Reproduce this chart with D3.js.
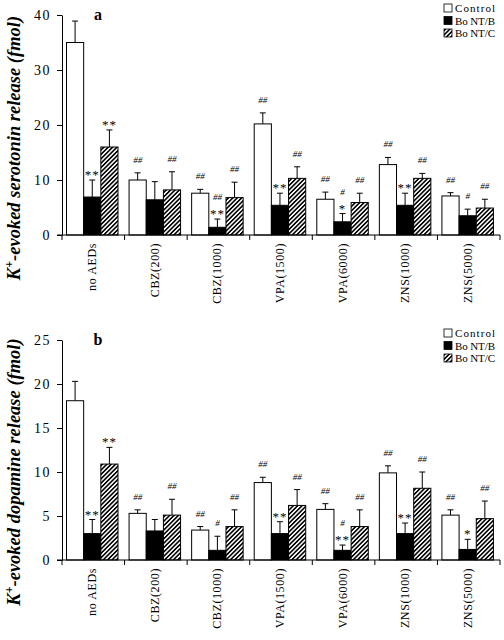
<!DOCTYPE html>
<html><head><meta charset="utf-8">
<script src="https://cdn.jsdelivr.net/npm/d3@7"></script>
<style>body{margin:0;background:#fff}svg{display:block}</style>
</head><body>
<script>
// ---------- data ----------
const categories = ["no AEDs","CBZ(200)","CBZ(1000)","VPA(1500)","VPA(6000)","ZNS(1000)","ZNS(5000)"];
const seriesNames = ["Control","Bo NT/B","Bo NT/C"];

// Panel a: serotonin (mean, mean+SEM)
const serControl    = [35.0, 10.0, 7.6, 20.2, 6.5, 12.8, 7.1];
const serControlErr = [38.9, 11.3, 8.3, 22.2, 7.8, 14.1, 7.7];
const serBoNTB      = [6.9, 6.4, 1.4, 5.4, 2.4, 5.4, 3.5];
const serBoNTBErr   = [10.0, 9.7, 2.9, 7.6, 3.9, 7.6, 4.7];
const serBoNTC      = [16.0, 8.2, 6.8, 10.3, 5.9, 10.3, 4.9];
const serBoNTCErr   = [19.1, 11.5, 9.6, 12.4, 7.6, 11.2, 6.5];
const serControlSig = ["", "##", "##", "##", "##", "##", "##"];
const serBoNTBSig   = [["**"], [], ["**","##"], ["**"], ["*","#"], ["**"], ["#"]];
const serBoNTCSig   = ["**", "##", "##", "##", "##", "##", "##"];

// Panel b: dopamine (mean, mean+SEM)
const dopControl    = [18.1, 5.3, 3.4, 8.8, 5.75, 9.9, 5.1];
const dopControlErr = [20.3, 5.7, 3.8, 9.4, 6.4, 10.7, 5.7];
const dopBoNTB      = [3.0, 3.3, 1.1, 3.0, 1.1, 3.0, 1.2];
const dopBoNTBErr   = [4.6, 4.6, 2.7, 4.35, 1.7, 4.2, 2.35];
const dopBoNTC      = [10.9, 5.1, 3.8, 6.2, 3.8, 8.15, 4.7];
const dopBoNTCErr   = [12.8, 6.9, 5.7, 8.0, 5.7, 10.0, 6.7];
const dopControlSig = ["", "##", "##", "##", "##", "##", "##"];
const dopBoNTBSig   = [["**"], [], ["#"], ["**"], ["**","#"], ["**"], ["*"]];
const dopBoNTCSig   = ["**", "##", "##", "##", "##", "##", "##"];

const serTicks = [0, 10, 20, 30, 40];
const dopTicks = [0, 5, 10, 15, 20, 25];

// ---------- drawing ----------
const W = 504, H = 640;
const svg = d3.select("body").append("svg").attr("width", W).attr("height", H)
  .style("font-family", "'Liberation Serif','Times New Roman',serif");

const defs = svg.append("defs");
const pat = defs.append("pattern").attr("id", "hatch")
  .attr("patternUnits", "userSpaceOnUse").attr("width", 3.1).attr("height", 3.1)
  .attr("patternTransform", "rotate(45)");
pat.append("rect").attr("width", 3.1).attr("height", 3.1).attr("fill", "#fff");
pat.append("line").attr("x1", 0.8).attr("y1", 0).attr("x2", 0.8).attr("y2", 3.1)
  .attr("stroke", "#000").attr("stroke-width", 1.6);

const fills = ["#fff", "#000", "url(#hatch)"];

function panel(cfg) {
  const x = d3.scaleBand().domain(categories).range([62, 500]).padding(0);
  const xs = d3.scaleBand().domain(seriesNames).range([4.5, 56]).padding(0);
  const y = d3.scaleLinear().domain(cfg.domain).range([cfg.y0, cfg.y1]);
  const g = svg.append("g");

  const rows = [];
  categories.forEach((c, i) => {
    cfg.series.forEach((s, k) => {
      rows.push({c, k, name: seriesNames[k], v: s.vals[i], e: s.errs[i],
        sig: [].concat(s.sig[i]).filter(d => d)});
    });
  });
  const bw = xs.bandwidth();
  const bars = g.append("g").selectAll("g").data(rows).join("g");
  bars.append("line")
    .attr("x1", d => x(d.c) + xs(d.name) + bw / 2).attr("x2", d => x(d.c) + xs(d.name) + bw / 2)
    .attr("y1", d => y(d.v)).attr("y2", d => y(d.e)).attr("stroke", "#000").attr("stroke-width", 1);
  bars.append("line")
    .attr("x1", d => x(d.c) + xs(d.name) + bw / 2 - 3).attr("x2", d => x(d.c) + xs(d.name) + bw / 2 + 3)
    .attr("y1", d => y(d.e)).attr("y2", d => y(d.e)).attr("stroke", "#000").attr("stroke-width", 1);
  bars.append("rect")
    .attr("x", d => x(d.c) + xs(d.name)).attr("width", bw)
    .attr("y", d => y(d.v)).attr("height", d => y(0) - y(d.v))
    .attr("fill", d => fills[d.k]).attr("stroke", "#000").attr("stroke-width", 1);

  // significance marks, stacked above the error bar
  bars.each(function(d) {
    const cx = x(d.c) + xs(d.name) + bw / 2;
    let center = y(d.e);
    d.sig.forEach((t, j) => {
      const hash = t.indexOf("#") >= 0;
      center -= j === 0 ? (hash ? 13 : 8) : 14;
      d3.select(this).append("text").attr("x", cx).attr("y", center + (hash ? 3 : 7))
        .attr("text-anchor", "middle")
        .attr("font-size", hash ? 9 : 13)
        .attr("font-style", hash ? "italic" : "normal")
        .attr("letter-spacing", hash ? 0 : 1)
        .attr("fill", "#000")
        .text(t);
    });
  });

  // y axis
  const ya = g.append("g").attr("transform", "translate(62,0)")
    .call(d3.axisLeft(y).tickValues(cfg.ticks).tickSize(5).tickSizeOuter(0).tickPadding(6).tickFormat(d3.format("d")));
  ya.select(".domain").attr("stroke", "#000");
  ya.selectAll("text").attr("font-size", 14).attr("letter-spacing", 1.5)
    .style("font-family", "'Liberation Serif',serif").attr("fill", "#000");

  // x axis line & boundary ticks
  const xa = g.append("g");
  xa.append("line").attr("x1", x.range()[0] - 5).attr("x2", x.range()[1])
    .attr("y1", y(0)).attr("y2", y(0)).attr("stroke", "#000");
  const edges = categories.map(c => x(c)).concat([x.range()[1]]);
  xa.selectAll("line.tk").data(edges).join("line").attr("class", "tk")
    .attr("x1", d => d).attr("x2", d => d).attr("y1", y(0)).attr("y2", y(0) + 5)
    .attr("stroke", "#000");
  xa.selectAll("text").data(categories).join("text")
    .attr("transform", c => `translate(${x(c) + x.bandwidth() / 2 - 1},${y(0) + 8}) rotate(-90)`)
    .attr("text-anchor", "end").attr("dominant-baseline", "central")
    .attr("font-size", 12).attr("letter-spacing", 0.6).text(c => c);

  // panel letter
  g.append("text").attr("x", 98).attr("y", cfg.y1 + 5).attr("text-anchor", "middle")
    .attr("font-size", 16).attr("font-weight", "bold").text(cfg.letter);

  // y title
  const yt = g.append("text")
    .attr("transform", `translate(20,${cfg.titleY}) rotate(-90)`)
    .attr("text-anchor", "middle").attr("font-size", 18.5)
    .attr("font-style", "italic").attr("font-weight", "bold");
  yt.append("tspan").text("K");
  yt.append("tspan").attr("font-size", 12).attr("dy", -7).text("+");
  yt.append("tspan").attr("dy", 7).text("-evoked " + cfg.substance + " release (fmol)");

  // legend
  const lg = g.append("g");
  seriesNames.forEach((n, k) => {
    const ly = cfg.legendY + k * 12.5;
    lg.append("rect").attr("x", 444).attr("y", ly - 4).attr("width", 8).attr("height", 8)
      .attr("fill", fills[k]).attr("stroke", "#000").attr("stroke-width", 0.8);
    lg.append("text").attr("x", 455).attr("y", ly).attr("dominant-baseline", "central")
      .attr("font-size", 11).attr("textLength", 40).attr("lengthAdjust", "spacing").text(n);
  });
}

panel({domain: [0, 40], y0: 235, y1: 15, ticks: serTicks, letter: "a",
  substance: "serotonin", titleY: 148, legendY: 8,
  series: [
    {vals: serControl, errs: serControlErr, sig: serControlSig},
    {vals: serBoNTB, errs: serBoNTBErr, sig: serBoNTBSig},
    {vals: serBoNTC, errs: serBoNTCErr, sig: serBoNTCSig}]});

panel({domain: [0, 25], y0: 560, y1: 340, ticks: dopTicks, letter: "b",
  substance: "dopamine", titleY: 472, legendY: 333,
  series: [
    {vals: dopControl, errs: dopControlErr, sig: dopControlSig},
    {vals: dopBoNTB, errs: dopBoNTBErr, sig: dopBoNTBSig},
    {vals: dopBoNTC, errs: dopBoNTCErr, sig: dopBoNTCSig}]});
</script>
</body></html>
